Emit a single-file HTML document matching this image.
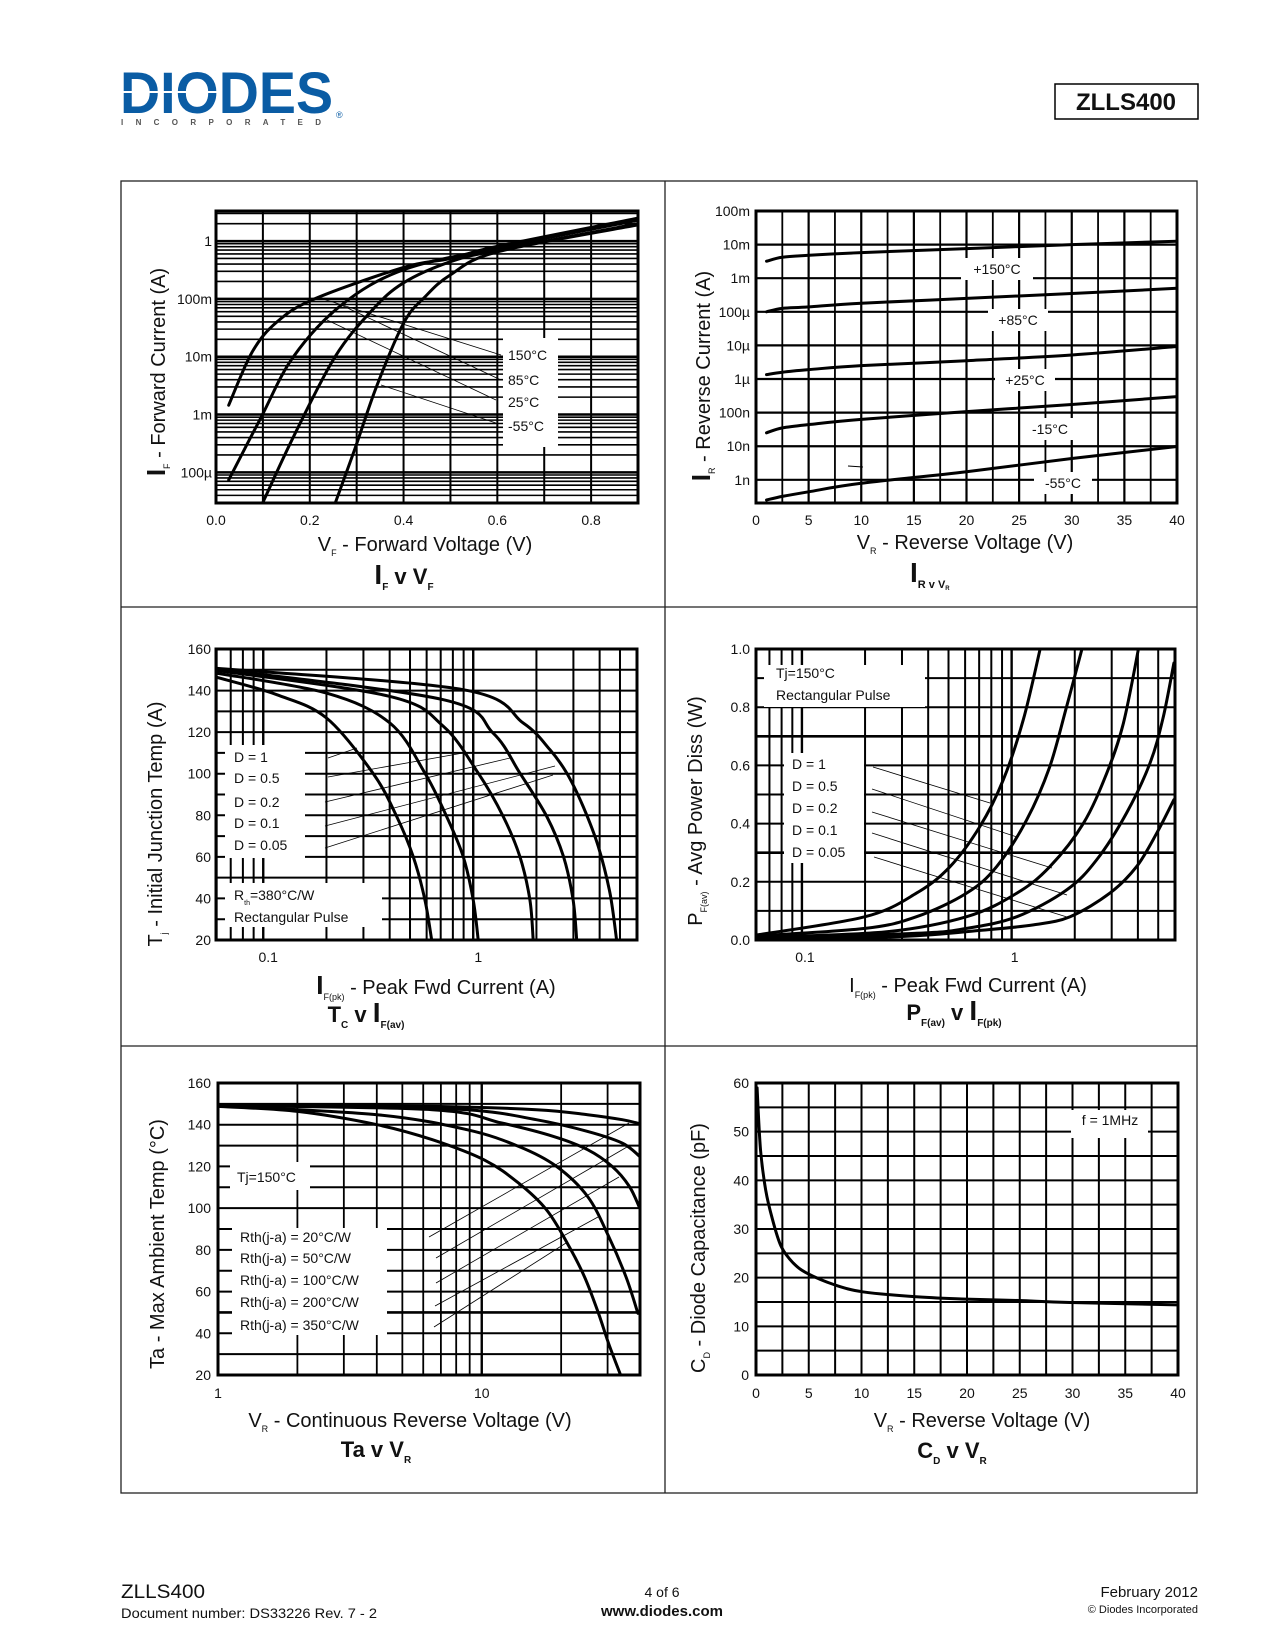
<!DOCTYPE html>
<html><head><meta charset="utf-8"><title>ZLLS400 typical characteristics</title>
<style>
html,body{margin:0;padding:0;background:#fff;}
svg{display:block;font-family:"Liberation Sans",Arial,sans-serif;}
text{fill:#111;}
</style></head>
<body>
<svg id="page" xmlns="http://www.w3.org/2000/svg" width="1275" height="1650" viewBox="0 0 1275 1650">
  <rect x="0" y="0" width="1275" height="1650" fill="#fff"/>
  <g>
    <text x="120" y="113" font-size="58" font-weight="bold" fill="#0a5ca4" style="fill:#0a5ca4" textLength="213" lengthAdjust="spacingAndGlyphs">DIODES</text>
    <rect x="120" y="91" width="98" height="2" fill="#fff"/>
    <text x="121" y="125" font-size="8" font-weight="bold" style="fill:#555" textLength="200" lengthAdjust="spacing">INCORPORATED</text>
    <text x="336" y="118" font-size="9" style="fill:#0a5ca4">®</text>
  </g>
  <g>
    <rect x="1055" y="84" width="143" height="35" fill="#fff" stroke="#000" stroke-width="1.5"/>
    <text x="1126" y="110" font-size="24" font-weight="bold" text-anchor="middle">ZLLS400</text>
  </g>
  <g fill="none" stroke="#222" stroke-width="1.3">
    <rect x="121" y="181" width="1076" height="1312"/>
    <line x1="665" y1="181" x2="665" y2="1493"/>
    <line x1="121" y1="607" x2="1197" y2="607"/>
    <line x1="121" y1="1046" x2="1197" y2="1046"/>
  </g>
  <g id="charts"></g>

  <g>
    <text transform="rotate(-90 157 372)" x="157" y="380" text-anchor="middle" font-size="20"><tspan font-weight="bold" font-size="26">I</tspan><tspan font-size="9" dy="5">F</tspan><tspan dy="-5"> - Forward Current (A)</tspan></text>
    <text x="425" y="551" text-anchor="middle" font-size="20">V<tspan font-size="9" dy="5">F</tspan><tspan dy="-5"> - Forward Voltage (V)</tspan></text>
    <text x="404" y="584" text-anchor="middle" font-size="22" font-weight="bold"><tspan font-size="28">I</tspan><tspan font-size="10" dy="6">F</tspan><tspan dy="-6"> v V</tspan><tspan font-size="10" dy="6">F</tspan></text>
  </g>
  <g>
    <text transform="rotate(-90 702 376)" x="702" y="384" text-anchor="middle" font-size="20"><tspan font-weight="bold" font-size="26">I</tspan><tspan font-size="9" dy="5">R</tspan><tspan dy="-5"> - Reverse Current (A)</tspan></text>
    <text x="965" y="549" text-anchor="middle" font-size="20">V<tspan font-size="9" dy="5">R</tspan><tspan dy="-5"> - Reverse Voltage (V)</tspan></text>
    <text x="910" y="582" font-size="28" font-weight="bold">I<tspan font-size="11" dy="6">R v V</tspan><tspan font-size="6" dy="2">R</tspan></text>
  </g>
  <g>
    <text transform="rotate(-90 155 824)" x="155" y="831" text-anchor="middle" font-size="20">T<tspan font-size="9" dy="5">j</tspan><tspan dy="-5"> - Initial Junction Temp (A)</tspan></text>
    <text x="436" y="994" text-anchor="middle" font-size="20"><tspan font-weight="bold" font-size="26">I</tspan><tspan font-size="9" dy="6">F(pk)</tspan><tspan dy="-6"> - Peak Fwd Current (A)</tspan></text>
    <text x="366" y="1022" text-anchor="middle" font-size="22" font-weight="bold">T<tspan font-size="10" dy="6">C</tspan><tspan dy="-6"> v </tspan><tspan font-size="28">I</tspan><tspan font-size="10" dy="6">F(av)</tspan></text>
  </g>
  <g>
    <text transform="rotate(-90 695 811)" x="695" y="818" text-anchor="middle" font-size="20">P<tspan font-size="9" dy="5">F(av)</tspan><tspan dy="-5"> - Avg Power Diss (W)</tspan></text>
    <text x="968" y="992" text-anchor="middle" font-size="20">I<tspan font-size="9" dy="6">F(pk)</tspan><tspan dy="-6"> - Peak Fwd Current (A)</tspan></text>
    <text x="954" y="1020" text-anchor="middle" font-size="22" font-weight="bold">P<tspan font-size="10" dy="6">F(av)</tspan><tspan dy="-6"> v </tspan><tspan font-size="28">I</tspan><tspan font-size="10" dy="6">F(pk)</tspan></text>
  </g>
  <g>
    <text transform="rotate(-90 157 1244)" x="157" y="1251" text-anchor="middle" font-size="20">Ta - Max Ambient Temp (°C)</text>
    <text x="410" y="1427" text-anchor="middle" font-size="20">V<tspan font-size="9" dy="5">R</tspan><tspan dy="-5"> - Continuous Reverse Voltage (V)</tspan></text>
    <text x="376" y="1457" text-anchor="middle" font-size="22" font-weight="bold">Ta v V<tspan font-size="10" dy="6">R</tspan></text>
  </g>
  <g>
    <text transform="rotate(-90 698 1248)" x="698" y="1255" text-anchor="middle" font-size="20">C<tspan font-size="9" dy="5">D</tspan><tspan dy="-5"> - Diode Capacitance (pF)</tspan></text>
    <text x="982" y="1427" text-anchor="middle" font-size="20">V<tspan font-size="9" dy="5">R</tspan><tspan dy="-5"> - Reverse Voltage (V)</tspan></text>
    <text x="952" y="1458" text-anchor="middle" font-size="22" font-weight="bold">C<tspan font-size="10" dy="6">D</tspan><tspan dy="-6"> v V</tspan><tspan font-size="10" dy="6">R</tspan></text>
  </g>

  <g>
    <text x="121" y="1598" font-size="19" textLength="84" lengthAdjust="spacingAndGlyphs">ZLLS400</text>
    <text x="121" y="1618" font-size="14" textLength="256" lengthAdjust="spacingAndGlyphs">Document number: DS33226 Rev. 7 - 2</text>
    <text x="662" y="1597" font-size="14" text-anchor="middle">4 of 6</text>
    <text x="662" y="1616" font-size="15" font-weight="bold" text-anchor="middle">www.diodes.com</text>
    <text x="1198" y="1597" font-size="15" text-anchor="end">February 2012</text>
    <text x="1198" y="1613" font-size="11" text-anchor="end">© Diodes Incorporated</text>
  </g>
</svg>
<script>
// ===== Chart 1: IF v VF =====
const c1Temps = ['150°C','85°C','25°C','-55°C'];
const c1V150 = [0.027,0.077,0.13,0.21,0.40,0.5,0.6,0.9];
const c1I150 = [1.45e-3,0.012,0.04,0.10,0.35,0.50,0.81,2.5];
const c1V85 = [0.027,0.096,0.165,0.268,0.40,0.6,0.9];
const c1I85 = [7.4e-5,8.9e-4,0.01,0.079,0.32,0.76,2.3];
const c1V25 = [0.099,0.165,0.254,0.334,0.40,0.5,0.6,0.9];
const c1I25 = [2.9e-5,4.1e-4,0.01,0.065,0.19,0.44,0.69,2.0];
const c1Vm55 = [0.254,0.298,0.342,0.40,0.445,0.5,0.6,0.9];
const c1Im55 = [2.9e-5,2.8e-4,3.0e-3,0.038,0.107,0.26,0.65,1.9];
const c1XTicks = [0,0.2,0.4,0.6,0.8];
const c1XLabels = ['0.0','0.2','0.4','0.6','0.8'];
const c1YTicks = [1,0.1,0.01,0.001,0.0001];
const c1YLabels = ['1','100m','10m','1m','100µ'];

// ===== Chart 2: IR v VR =====
const c2Temps = ['+150°C','+85°C','+25°C','-15°C','-55°C'];
const c2V = [1,2.5,5,10,20,30,40];
const c2I150 = [3.2e-3,4.2e-3,4.8e-3,5.8e-3,7.6e-3,0.010,0.0126];
const c2I85 = [1.0e-4,1.26e-4,1.4e-4,1.8e-4,2.5e-4,3.5e-4,5.0e-4];
const c2I25 = [1.35e-6,1.6e-6,1.9e-6,2.5e-6,3.5e-6,5.2e-6,9.3e-6];
const c2Im15 = [2.5e-8,3.5e-8,4.4e-8,6.3e-8,1.07e-7,1.74e-7,3.0e-7];
const c2Im55 = [2.5e-10,3.2e-10,4.4e-10,7.9e-10,1.74e-9,4.3e-9,9.8e-9];
const c2XTicks = [0,5,10,15,20,25,30,35,40];
const c2YTicks = [0.1,0.01,1e-3,1e-4,1e-5,1e-6,1e-7,1e-8,1e-9];
const c2YLabels = ['100m','10m','1m','100µ','10µ','1µ','100n','10n','1n'];

// ===== Chart 3: Tj v IF(pk) =====
const c3Duty = ['D = 1','D = 0.5','D = 0.2','D = 0.1','D = 0.05'];
const c3I1 = [0.0596,0.116,0.2,0.333,0.432,0.518,0.589,0.634];
const c3T1 = [146.5,138,126.8,100.3,79.4,60.1,39.3,20];
const c3I2 = [0.0596,0.2,0.401,0.589,0.747,0.896,1.0,1.056];
const c3T2 = [148.4,138.8,124.4,100.3,79.4,60.1,39.3,20];
const c3I3 = [0.0596,0.401,0.72,1.056,1.39,1.668,1.862,1.93];
const c3T3 = [149.7,137.2,122.8,100.3,79.4,60.1,39.3,20];
const c3I4 = [0.0596,0.72,1.245,1.668,2.24,2.69,2.99,3.11];
const c3T4 = [150.4,135.6,119.5,100.3,79.4,60.1,39.3,20];
const c3I5 = [0.0596,0.896,1.73,2.32,2.79,3.34,3.94,4.48,4.82];
const c3T5 = [150.7,140.4,124.4,111.5,100.3,84.2,65,42.5,20];
const c3XTicks = [0.1,1];
const c3XLabels = ['0.1','1'];
const c3YTicks = [20,40,60,80,100,120,140,160];

// ===== Chart 4: PF(av) v IF(pk) =====
const c4I1 = [0.0604,0.2,0.352,0.508,0.706,0.912,1.137,1.365];
const c4P1 = [0.017,0.080,0.161,0.252,0.39,0.55,0.757,0.998];
const c4I2 = [0.0604,0.2,0.352,0.61,0.848,1.18,1.52,1.83,2.16];
const c4P2 = [0.014,0.04,0.08,0.161,0.252,0.413,0.596,0.803,0.998];
const c4I3 = [0.0604,0.25,0.61,1.06,1.52,2.20,2.84,3.41,4.02];
const c4P3 = [0.009,0.028,0.08,0.161,0.252,0.401,0.573,0.745,0.998];
const c4I4 = [0.0604,0.352,0.61,1.06,1.83,2.54,3.53,4.57,5.29,5.94];
const c4P4 = [0.006,0.023,0.04,0.08,0.172,0.275,0.436,0.608,0.768,0.952];
const c4I5 = [0.0604,0.3,0.733,1.27,1.90,2.94,3.94,4.92,5.94];
const c4P5 = [0.002,0.012,0.034,0.052,0.08,0.161,0.252,0.367,0.482];
const c4XTicks = [0.1,1];
const c4XLabels = ['0.1','1'];
const c4YTicks = [0,0.2,0.4,0.6,0.8,1.0];
const c4YLabels = ['0.0','0.2','0.4','0.6','0.8','1.0'];

// ===== Chart 5: Ta v VR =====
const c5Rth = ['Rth(j-a) = 20°C/W','Rth(j-a) = 50°C/W','Rth(j-a) = 100°C/W','Rth(j-a) = 200°C/W','Rth(j-a) = 350°C/W'];
const c5V350 = [1,2,4.01,6.5,10.2,13.8,17.6,21.1,24.5,27.7,30.3,33.6];
const c5T350 = [148.8,146.4,140,132.8,123.2,112,99.2,83.2,67.2,49.6,35,20];
const c5V200 = [1,4.01,8.79,13.8,19.2,25.2,30.3,35.2,39.1];
const c5T200 = [149,144.8,137.6,129.6,120,105.6,86.4,67.2,49.6];
const c5V100 = [1,6.5,11.9,18.7,25.2,31.2,36.3,39.7];
const c5T100 = [149.2,147.2,140.8,134.4,128,120,110.4,100];
const c5V50 = [1,2.63,8.79,16.1,25.2,34.1,39.7];
const c5T50 = [149.5,149.1,147.2,142.4,136.8,131.2,124.8];
const c5V20 = [1,6.5,16.1,25.2,34.1,39.7];
const c5T20 = [149.6,148.8,147.2,144.8,142.4,140.5];
const c5XTicks = [1,10];
const c5XLabels = ['1','10'];
const c5YTicks = [20,40,60,80,100,120,140,160];

// ===== Chart 6: CD v VR =====
const c6V = [0.1,0.43,0.92,1.57,2.39,3.54,4.85,7.5,10.1,15,19.9,24.9,29.8,40];
const c6C = [59,46.3,38,31.9,26.4,23,20.9,18.5,17.1,16.1,15.6,15.3,14.9,14.4];
const c6XTicks = [0,5,10,15,20,25,30,35,40];
const c6YTicks = [0,10,20,30,40,50,60];

const NS = 'http://www.w3.org/2000/svg';
const root = document.getElementById('charts');
function mk(tag, attrs, parent) {
  const el = document.createElementNS(NS, tag);
  for (const k in attrs) el.setAttribute(k, attrs[k]);
  (parent || root).appendChild(el);
  return el;
}
function lin(d0, d1, r0, r1) { return v => r0 + (v - d0) / (d1 - d0) * (r1 - r0); }
function logS(l0, l1, r0, r1) { return v => r0 + (Math.log10(v) - l0) / (l1 - l0) * (r1 - r0); }
function smoothPath(pts) {
  let d = 'M' + pts[0][0].toFixed(1) + ',' + pts[0][1].toFixed(1);
  for (let i = 0; i < pts.length - 1; i++) {
    const p0 = pts[Math.max(0, i - 1)], p1 = pts[i], p2 = pts[i + 1], p3 = pts[Math.min(pts.length - 1, i + 2)];
    const c1x = p1[0] + (p2[0] - p0[0]) / 6, c1y = p1[1] + (p2[1] - p0[1]) / 6;
    const c2x = p2[0] - (p3[0] - p1[0]) / 6, c2y = p2[1] - (p3[1] - p1[1]) / 6;
    d += ' C' + c1x.toFixed(1) + ',' + c1y.toFixed(1) + ' ' + c2x.toFixed(1) + ',' + c2y.toFixed(1) + ' ' + p2[0].toFixed(1) + ',' + p2[1].toFixed(1);
  }
  return d;
}
let clipId = 0;
function makeChart(name, x0, y0, x1, y1) {
  const g = mk('g', {});
  
  
  const id = 'clip' + (clipId++);
  const cp = mk('clipPath', { id: id }, g);
  mk('rect', { x: x0, y: y0, width: x1 - x0, height: y1 - y0 }, cp);
  const inner = mk('g', { 'clip-path': 'url(#' + id + ')' }, g);
  return { g: g, inner: inner, x0: x0, y0: y0, x1: x1, y1: y1 };
}
function vline(c, x, w) {
  const l = mk('line', { x1: x, y1: c.y0, x2: x, y2: c.y1, stroke: '#000', 'stroke-width': w }, c.inner);
  
  
}
function hline(c, y, w) {
  const l = mk('line', { x1: c.x0, y1: y, x2: c.x1, y2: y, stroke: '#000', 'stroke-width': w }, c.inner);
  
  
}
function whiteBox(c, x, y, w, h, name) {
  const r = mk('rect', { x: x, y: y, width: w, height: h, fill: '#fff' }, c.g);
  
  
}
function leader(c, xa, ya, xb, yb) {
  const l = mk('line', { x1: xa, y1: ya, x2: xb, y2: yb, stroke: '#000', 'stroke-width': 0.8 }, c.g);
  
  
}
function curve(c, xs, ys, sx, sy, name) {
  const pts = xs.map((v, i) => [sx(v), sy(ys[i])]);
  const p = mk('path', { d: smoothPath(pts), fill: 'none', stroke: '#000', 'stroke-width': 3, 'stroke-linecap': 'round' }, c.inner);
  
  
}
function border(c) {
  const r = mk('rect', { x: c.x0, y: c.y0, width: c.x1 - c.x0, height: c.y1 - c.y0, fill: 'none', stroke: '#000', 'stroke-width': 3 }, c.g);
  
  
}
function label(c, x, y, txt, anchor, size, name) {
  const t = mk('text', { x: x, y: y, 'text-anchor': anchor, 'font-size': size }, c.g);
  t.textContent = txt;
  
  
  return t;
}
function logGrid(c, sx, lo, hi, vertical, wMajor, wMinor) {
  for (let d = lo; d <= hi; d++) {
    for (let m = 1; m <= 9; m++) {
      const v = m * Math.pow(10, d);
      const p = sx(v);
      if (vertical) { if (p > c.x0 && p < c.x1) vline(c, p, m === 1 ? wMajor : wMinor); }
      else { if (p > c.y0 && p < c.y1) hline(c, p, m === 1 ? wMajor : wMinor); }
    }
  }
}

// ---------- Chart 1 ----------
(function () {
  const c = makeChart('chart-if-v-vf', 216, 211, 638, 503);
  const sx = lin(0, 0.9, c.x0, c.x1);
  const sy = logS(-4.53, 0.52, c.y1, c.y0);
  for (let v = 0.1; v < 0.9; v += 0.1) vline(c, sx(v), 2);
  logGrid(c, sy, -5, 0, false, 2.5, 1.6);
  whiteBox(c, 503, 338, 55, 109, 'legend-box');
  leader(c, 320, 298, 501, 355);
  leader(c, 341, 305, 501, 380);
  leader(c, 327, 320, 496, 400);
  leader(c, 381, 385, 496, 423);
  curve(c, c1V150, c1I150, sx, sy, 'curve-150c');
  curve(c, c1V85, c1I85, sx, sy, 'curve-85c');
  curve(c, c1V25, c1I25, sx, sy, 'curve-25c');
  curve(c, c1Vm55, c1Im55, sx, sy, 'curve-minus55c');
  border(c);
  const ly = [360, 385, 407, 431];
  c1Temps.forEach((t, i) => label(c, 508, ly[i], t, 'start', 14, 'legend-entry'));
  c1XTicks.forEach((v, i) => label(c, sx(v), 525, c1XLabels[i], 'middle', 14, 'x-tick-label'));
  c1YTicks.forEach((v, i) => label(c, 212, sy(v) + 5, c1YLabels[i], 'end', 14, 'y-tick-label'));
})();

// ---------- Chart 2 ----------
(function () {
  const c = makeChart('chart-ir-v-vr', 756, 211, 1177, 503);
  const sx = lin(0, 40, c.x0, c.x1);
  const sy = logS(-9.69, -1, c.y1, c.y0);
  for (let v = 2.5; v < 40; v += 2.5) vline(c, sx(v), (v % 5 === 0) ? 2.2 : 1.8);
  for (let d = -9; d <= -2; d++) hline(c, sy(Math.pow(10, d)), 2.2);
  const boxes = [[997, 269, 72], [1018, 320, 60], [1025, 380, 60], [1050, 429, 56], [1063, 483, 58]];
  boxes.forEach(b => whiteBox(c, b[0] - b[2] / 2, b[1] - 11, b[2], 22, 'legend-box'));
  curve(c, c2V, c2I150, sx, sy, 'curve-150c');
  curve(c, c2V, c2I85, sx, sy, 'curve-85c');
  curve(c, c2V, c2I25, sx, sy, 'curve-25c');
  curve(c, c2V, c2Im15, sx, sy, 'curve-minus15c');
  curve(c, c2V, c2Im55, sx, sy, 'curve-minus55c');
  const mark = mk('line', { x1: 848, y1: 466, x2: 863, y2: 467, stroke: '#000', 'stroke-width': 1 }, c.g);
  
  
  border(c);
  c2Temps.forEach((t, i) => label(c, boxes[i][0], boxes[i][1] + 5, t, 'middle', 14, 'legend-entry'));
  c2XTicks.forEach(v => label(c, sx(v), 525, String(v), 'middle', 14, 'x-tick-label'));
  label(c, 750, 216, '100m', 'end', 14, 'y-tick-label');
  c2YTicks.slice(1).forEach((v, i) => label(c, 750, sy(v) + 5, c2YLabels[i + 1], 'end', 14, 'y-tick-label'));
})();

// ---------- Chart 3 ----------
(function () {
  const c = makeChart('chart-tj-v-ifpk', 216, 649, 637, 940);
  const sx = logS(-1.225, 0.78, c.x0, c.x1);
  const sy = lin(20, 160, c.y1, c.y0);
  logGrid(c, sx, -2, 0, true, 2.4, 2);
  for (let v = 30; v < 160; v += 10) hline(c, sy(v), 2);
  whiteBox(c, 225, 745, 80, 113, 'duty-legend-box');
  whiteBox(c, 225, 883, 157, 44, 'conditions-box');
  leader(c, 328, 758, 357, 748);
  leader(c, 328, 777, 463, 753);
  leader(c, 325, 802, 510, 758);
  leader(c, 325, 826, 555, 766);
  leader(c, 325, 848, 553, 775);
  curve(c, c3I1, c3T1, sx, sy, 'curve-duty-1');
  curve(c, c3I2, c3T2, sx, sy, 'curve-duty-0-5');
  curve(c, c3I3, c3T3, sx, sy, 'curve-duty-0-2');
  curve(c, c3I4, c3T4, sx, sy, 'curve-duty-0-1');
  curve(c, c3I5, c3T5, sx, sy, 'curve-duty-0-05');
  border(c);
  const ly = [762, 783, 807, 828, 850];
  c3Duty.forEach((t, i) => label(c, 234, ly[i], t, 'start', 14, 'legend-entry'));
  const rth = label(c, 234, 900, 'R', 'start', 14, 'rth-label');
  const sub = mk('tspan', { 'font-size': 7, dy: 5 }, rth); sub.textContent = 'th';
  const rest = mk('tspan', { dy: -5 }, rth); rest.textContent = '=380°C/W';
  label(c, 234, 922, 'Rectangular Pulse', 'start', 14, 'pulse-label');
  c3XTicks.forEach((v, i) => label(c, sx(v) + 5, 962, c3XLabels[i], 'middle', 14, 'x-tick-label'));
  c3YTicks.forEach(v => label(c, 211, sy(v) + 5, String(v), 'end', 14, 'y-tick-label'));
})();

// ---------- Chart 4 ----------
(function () {
  const c = makeChart('chart-pfav-v-ifpk', 756, 649, 1175, 940);
  const sx = logS(-1.219, 0.779, c.x0, c.x1);
  const sy = lin(0, 1, c.y1, c.y0);
  logGrid(c, sx, -2, 0, true, 2.4, 2);
  for (let k = 1; k < 10; k++) hline(c, sy(k / 10), (k === 3 || k === 7) ? 2.6 : 2);
  whiteBox(c, 764, 665, 161, 42, 'conditions-box');
  whiteBox(c, 784, 753, 80, 110, 'duty-legend-box');
  leader(c, 873, 767, 990, 803);
  leader(c, 872, 789, 1017, 837);
  leader(c, 872, 812, 1052, 868);
  leader(c, 872, 833, 1067, 895);
  leader(c, 874, 857, 1067, 917);
  curve(c, c4I1, c4P1, sx, sy, 'curve-duty-0-05');
  curve(c, c4I2, c4P2, sx, sy, 'curve-duty-0-1');
  curve(c, c4I3, c4P3, sx, sy, 'curve-duty-0-2');
  curve(c, c4I4, c4P4, sx, sy, 'curve-duty-0-5');
  curve(c, c4I5, c4P5, sx, sy, 'curve-duty-1');
  border(c);
  label(c, 776, 678, 'Tj=150°C', 'start', 14, 'tj-label');
  label(c, 776, 700, 'Rectangular Pulse', 'start', 14, 'pulse-label');
  const ly = [769, 791, 813, 835, 857];
  c3Duty.forEach((t, i) => label(c, 792, ly[i], t, 'start', 14, 'legend-entry'));
  c4XTicks.forEach((v, i) => label(c, sx(v) + 3, 962, c4XLabels[i], 'middle', 14, 'x-tick-label'));
  c4YTicks.forEach((v, i) => label(c, 750, sy(v) + 5, c4YLabels[i], 'end', 14, 'y-tick-label'));
})();

// ---------- Chart 5 ----------
(function () {
  const c = makeChart('chart-ta-v-vr', 218, 1083, 640, 1375);
  const sx = logS(0, 1.6, c.x0, c.x1);
  const sy = lin(20, 160, c.y1, c.y0);
  logGrid(c, sx, 0, 1, true, 2.4, 1.8);
  for (let v = 30; v < 160; v += 10) hline(c, sy(v), (v === 50) ? 2.6 : 2);
  whiteBox(c, 230, 1162, 80, 28, 'conditions-box');
  whiteBox(c, 232, 1228, 155, 107, 'rth-legend-box');
  leader(c, 429, 1237, 629, 1123);
  leader(c, 436, 1258, 627, 1147);
  leader(c, 436, 1283, 619, 1177);
  leader(c, 435, 1306, 598, 1217);
  leader(c, 434, 1327, 566, 1243);
  curve(c, c5V350, c5T350, sx, sy, 'curve-rth-350');
  curve(c, c5V200, c5T200, sx, sy, 'curve-rth-200');
  curve(c, c5V100, c5T100, sx, sy, 'curve-rth-100');
  curve(c, c5V50, c5T50, sx, sy, 'curve-rth-50');
  curve(c, c5V20, c5T20, sx, sy, 'curve-rth-20');
  border(c);
  label(c, 237, 1182, 'Tj=150°C', 'start', 14, 'tj-label');
  const ly = [1242, 1263, 1285, 1307, 1330];
  c5Rth.forEach((t, i) => label(c, 240, ly[i], t, 'start', 14, 'legend-entry'));
  c5XTicks.forEach((v, i) => label(c, sx(v), 1398, c5XLabels[i], 'middle', 14, 'x-tick-label'));
  c5YTicks.forEach(v => label(c, 211, sy(v) + 5, String(v), 'end', 14, 'y-tick-label'));
})();

// ---------- Chart 6 ----------
(function () {
  const c = makeChart('chart-cd-v-vr', 756, 1083, 1178, 1375);
  const sx = lin(0, 40, c.x0, c.x1);
  const sy = lin(0, 60, c.y1, c.y0);
  for (let v = 2.5; v < 40; v += 2.5) vline(c, sx(v), 2);
  for (let v = 5; v < 60; v += 5) hline(c, sy(v), 2);
  whiteBox(c, 1071, 1110, 77, 28, 'conditions-box');
  curve(c, c6V, c6C, sx, sy, 'curve-capacitance');
  border(c);
  label(c, 1110, 1125, 'f = 1MHz', 'middle', 14, 'frequency-label');
  c6XTicks.forEach(v => label(c, sx(v), 1398, String(v), 'middle', 14, 'x-tick-label'));
  c6YTicks.forEach(v => label(c, 749, sy(v) + 5, String(v), 'end', 14, 'y-tick-label'));
})();
</script>
</body></html>
